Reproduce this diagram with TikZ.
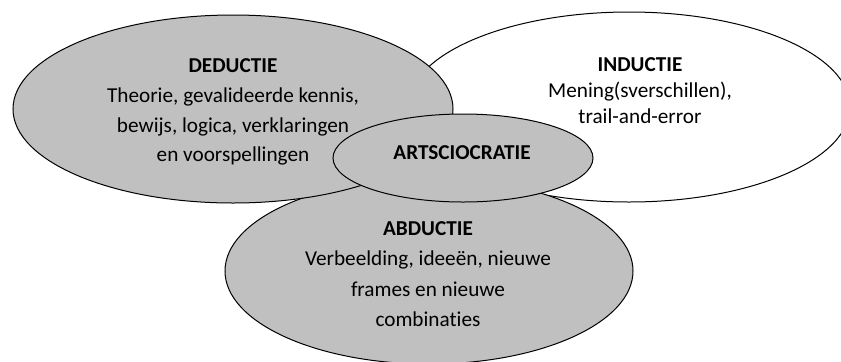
\documentclass[tikz,border=0pt]{standalone}
\usepackage{fontspec}
\setmainfont{Carlito}[Ligatures=NoCommon]
\usetikzlibrary{shapes.geometric}
\definecolor{blobgray}{RGB}{192,192,192}
\tikzset{
  blob/.style={ellipse, draw=black, line width=1bp, inner sep=0pt, outer sep=0pt},
  grayblob/.style={blob, fill=blobgray},
  whiteblob/.style={blob, fill=white},
  label/.style={align=center, inner sep=0pt, text=black},
}
\begin{document}
\begin{tikzpicture}[x=1bp,y=-1bp]
\useasboundingbox (0,0) rectangle (841,361);
\clip (0,0) rectangle (841,361);
\fill[white] (0,0) rectangle (841,361);
% ellipses, back to front
\node[whiteblob, minimum width=442bp, minimum height=190bp] (ind) at (629,107) {};
\node[grayblob, minimum width=408bp, minimum height=186bp] (abd) at (429,271) {};
\node[grayblob, minimum width=440bp, minimum height=188bp] (ded) at (233,109) {};
\node[grayblob, minimum width=260bp, minimum height=88bp] (art) at (463,158) {};
% texts
\node[label, font=\fontsize{21.3}{30}\selectfont] (dedtxt) at (233,112)
  {\textbf{DEDUCTIE}\\Theorie, gevalideerde kennis,\\bewijs, logica, verklaringen\\en voorspellingen};
\node[label, font=\fontsize{21.3}{26}\selectfont] (indtxt) at (640,91)
  {\textbf{INDUCTIE}\\Mening(sverschillen),\\trail-and-error};
\node[label, font=\fontsize{21.3}{30.7}\selectfont] (abdtxt) at (428,274)
  {\textbf{ABDUCTIE}\\Verbeelding, ideeën, nieuwe\\frames en nieuwe\\combinaties};
\node[label, font=\fontsize{21.3}{30}\selectfont\bfseries] (arttxt) at (462,153)
  {ARTSCIOCRATIE};
\end{tikzpicture}
\end{document}
